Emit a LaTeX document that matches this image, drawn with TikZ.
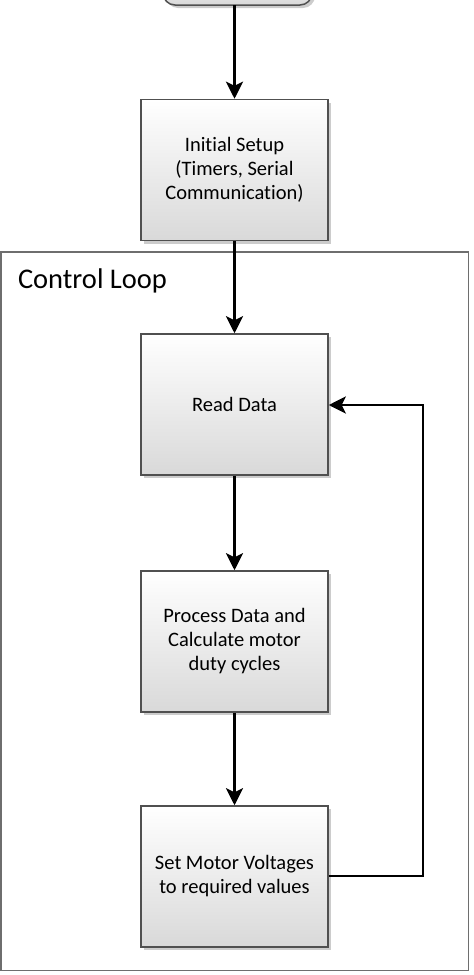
\documentclass[tikz,border=0pt]{standalone}
\usepackage{fontspec}
\setmainfont[Ligatures=NoCommon]{Carlito}
\usetikzlibrary{arrows.meta,shadows}
\definecolor{boxline}{HTML}{505050}
\definecolor{frameline}{HTML}{6E6E6E}
\tikzset{
  stepbox/.style={draw=boxline, line width=1.5pt, minimum width=187pt, minimum height=141pt,
    top color=white, bottom color=black!15, align=center, font=\fontsize{20.5}{24}\selectfont,
    drop shadow={shadow xshift=3pt, shadow yshift=-3pt, fill=black!20, opacity=1}},
  startbox/.style={draw=boxline, line width=1.5pt, rounded corners=12pt, top color=white, bottom color=black!15,
    drop shadow={shadow xshift=3pt, shadow yshift=-3pt, fill=black!20, opacity=1}},
  flow/.style={line width=2.8pt, -{Stealth[length=17pt,width=17pt,inset=4pt]}},
}
\begin{document}
\begin{tikzpicture}[x=1pt,y=-1pt]
\useasboundingbox (0,0) rectangle (474,975);
\begin{scope}
\clip (0,0) rectangle (474,975);
\node[startbox, minimum width=149pt, minimum height=40pt] (start) at (237.5,-15) {};
\end{scope}
\draw[frameline, line width=1.5pt] (0.8,252) rectangle (468.5,970.5);
\node[anchor=base west, font=\fontsize{28.5}{32}\selectfont] (loop) at (14.5,288.5) {Control Loop};
\node[stepbox] (setup) at (234.5,170) {Initial Setup\\(Timers, Serial\\Communication)};
\node[stepbox] (read) at (234.5,404.5) {Read Data};
\node[stepbox] (proc) at (234.5,641.5) {Process Data and\\Calculate motor\\duty cycles};
\node[stepbox] (set) at (234.5,876.5) {Set Motor Voltages\\to required values};
\coordinate (c1) at (423,876);
\coordinate (c2) at (423,405);
\draw[flow] (234.5,5) -- (setup.north);
\draw[flow] (setup) -- (read);
\draw[flow] (read) -- (proc);
\draw[flow] (proc) -- (set);
\draw[flow] (set.east |- c1) -- (c1) -- (c2) -- (read.east |- c2);
\end{tikzpicture}
\end{document}
